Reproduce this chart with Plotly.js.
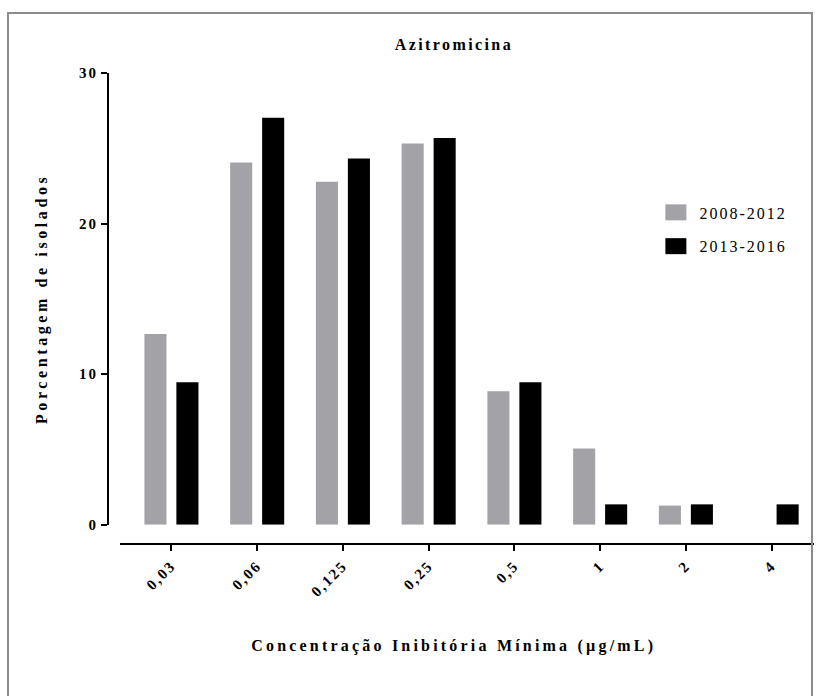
<!DOCTYPE html>
<html>
<head>
<meta charset="utf-8">
<script src="https://cdn.plot.ly/plotly-3.0.1.min.js"></script>
<style>
  html, body { margin: 0; padding: 0; background: #fff; }
  #wrap { position: relative; width: 819px; height: 696px; overflow: hidden; }
  #plot { position: absolute; left: 0; top: 0; width: 819px; height: 696px; }
  #frame { position: absolute; left: 7px; top: 12px; width: 806px; height: 700px;
           border: 2px solid #8c8c8c; pointer-events: none; box-sizing: border-box; }
  #plot text.gtitle { letter-spacing: 2.4px; }
  #plot .annotation-text { letter-spacing: 3.2px; }
  #plot text.ytitle { letter-spacing: 3.6px; }
  #plot .legendtext { letter-spacing: 2px; }
  #plot .xtick text, #plot .ytick text { letter-spacing: 2px; }
</style>
</head>
<body>
<div id="wrap">
  <div id="plot"></div>
  <div id="frame"></div>
</div>
<script>
// Data
const categories = ["0,03", "0,06", "0,125", "0,25", "0,5", "1", "2", "4"];
const series1Name = "2008-2012";
const series1 = [12.66, 24.05, 22.78, 25.32, 8.86, 5.06, 1.27, 0];
const series2Name = "2013-2016";
const series2 = [9.46, 27.03, 24.32, 25.68, 9.46, 1.35, 1.35, 1.35];
const yTicks = [0, 10, 20, 30];

const serif = "Liberation Serif";

const traces = [
  { type: "bar", name: series1Name, x: categories, y: series1,
    marker: { color: "#a3a2a6", line: { width: 0 } }, legendgroup: "a" },
  { type: "bar", name: series2Name, x: categories, y: series2,
    marker: { color: "#000000", line: { width: 0 } }, legendgroup: "b" }
];

const layout = {
  width: 819, height: 696,
  margin: { l: 107.5, r: 5, t: 72.7, b: 152 },
  paper_bgcolor: "rgba(0,0,0,0)",
  plot_bgcolor: "rgba(0,0,0,0)",
  barmode: "group",
  bargap: 0.254,
  bargroupgap: 0.31,
  showlegend: true,
  title: {
    text: "<b>Azitromicina</b>",
    font: { family: serif, size: 16, color: "#000" },
    x: 0.49, xanchor: "center", xref: "paper",
    y: 652 / 696, yanchor: "middle", yref: "container"
  },
  annotations: [{
    text: "<b>Concentração Inibitória Mínima (µg/mL)</b>",
    xref: "paper", yref: "paper", x: 0.489, y: -0.216,
    xanchor: "center", yanchor: "middle", showarrow: false,
    font: { family: serif, size: 16, color: "#000" }
  }],
  xaxis: {
    type: "category",
    range: [-0.594, 7.494],
    domain: [0.0177, 1],
    anchor: "free", position: 0,
    showline: true, linecolor: "#000", linewidth: 2,
    ticks: "outside", ticklen: 6, tickwidth: 2, tickcolor: "#000",
    tickangle: -45,
    tickfont: { family: serif, size: 15, color: "#000", weight: "bold" },
    showgrid: false, zeroline: false
  },
  yaxis: {
    range: [0, 30],
    domain: [0.041, 1],
    anchor: "free", position: 0,
    tickvals: yTicks,
    showline: true, linecolor: "#000", linewidth: 2,
    ticks: "outside", ticklen: 6, tickwidth: 2, tickcolor: "#000",
    tickfont: { family: serif, size: 15, color: "#000", weight: "bold" },
    showgrid: false, zeroline: false,
    title: { text: "<b>Porcentagem de isolados</b>",
             font: { family: serif, size: 16, color: "#000" }, standoff: 30 }
  },
  legend: {
    x: 0.781, xanchor: "left", y: 0.74, yanchor: "top",
    bgcolor: "rgba(0,0,0,0)",
    font: { family: serif, size: 16, color: "#000" },
    traceorder: "grouped", tracegroupgap: 10
  }
};

Plotly.newPlot("plot", traces, layout, { displayModeBar: false, staticPlot: true }).then(() => {
  document.querySelectorAll("#plot .legendpoints path").forEach(p => {
    p.setAttribute("d", "M7,8H-14V-8H7Z");
  });
  document.querySelectorAll("#plot .legend [clip-path]").forEach(el => el.removeAttribute("clip-path"));
  const lg = document.querySelector("#plot .legend");
  if (lg) lg.removeAttribute("clip-path");
});
</script>
</body>
</html>
